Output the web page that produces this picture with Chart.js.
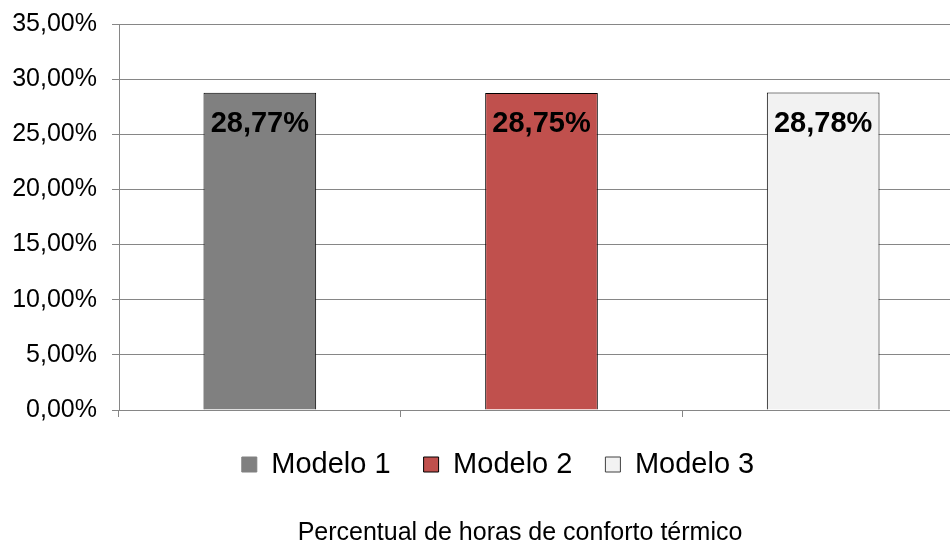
<!DOCTYPE html>
<html>
<head>
<meta charset="utf-8">
<script src="https://cdn.jsdelivr.net/npm/chart.js@4"></script>
<style>
  html, body { margin: 0; padding: 0; background: #fff; overflow: hidden; }
  #janela { width: 950px; height: 546px; overflow: hidden; }
  #wrap { width: 964px; height: 546px; }
</style>
</head>
<body>
<div id="janela"><div id="wrap"><canvas id="grafico"></canvas></div></div>
<script>
const modelos = ['Modelo 1', 'Modelo 2', 'Modelo 3'];
const percentuais = [28.77, 28.75, 28.78];
const cores = ['#808080', '#C0504D', '#F2F2F2'];
const bordas = ['#000000', '#000000', '#000000'];
const bordasLegenda = ['#808080', '#000000', '#404040'];
const ticksY = [0, 5, 10, 15, 20, 25, 30, 35];
const tituloEixo = 'Percentual de horas de conforto térmico';

function formatarPct(v) {
    return v.toFixed(2).replace('.', ',') + '%';
}

Chart.defaults.font.family = "'Liberation Sans', Arial, sans-serif";
Chart.defaults.color = '#000';

// rótulos dentro das barras
const rotulosBarras = {
    id: 'rotulosBarras',
    afterDatasetsDraw(chart) {
        const ctx = chart.ctx;
        const meta = chart.getDatasetMeta(0);
        ctx.save();
        ctx.font = "bold 29px 'Liberation Sans', Arial, sans-serif";
        ctx.fillStyle = '#000';
        ctx.textAlign = 'center';
        ctx.textBaseline = 'middle';
        meta.data.forEach((bar, i) => {
            ctx.fillText(formatarPct(percentuais[i]), bar.x, bar.y + 31);
        });
        ctx.restore();
    }
};

// legenda e título um pouco deslocados para a direita, como no original
const deslocarCaixas = {
    id: 'deslocarCaixas',
    afterLayout(chart) {
        if (chart.legend) { chart.legend.left += 16; chart.legend.right += 16; }
        if (chart.titleBlock) { chart.titleBlock.left += 38; chart.titleBlock.right += 38; }
    }
};

new Chart(document.getElementById('grafico'), {
    type: 'bar',
    data: {
        labels: modelos,
        datasets: [{
            label: tituloEixo,
            data: percentuais,
            backgroundColor: cores,
            borderColor: bordas,
            borderWidth: 1,
            categoryPercentage: 1,
            barPercentage: 0.4
        }]
    },
    options: {
        responsive: true,
        maintainAspectRatio: false,
        animation: false,
        layout: { padding: { top: 24, right: 0, left: 0, bottom: 0 } },
        scales: {
            x: {
                offset: true,
                grid: { offset: true, drawOnChartArea: false, drawTicks: true, tickLength: 7, color: '#868686' },
                border: { display: true, color: '#868686', width: 1 },
                ticks: { display: false }
            },
            y: {
                min: 0,
                max: 35,
                afterBuildTicks: (scale) => { scale.ticks = ticksY.map(v => ({ value: v })); },
                afterFit: (scale) => { scale.width = 119; },
                grid: { color: '#868686', tickLength: 7 },
                border: { display: true, color: '#868686', width: 1 },
                ticks: {
                    padding: 15,
                    font: { size: 25, lineHeight: 0.5 },
                    color: '#000',
                    callback: (v) => formatarPct(v)
                }
            }
        },
        plugins: {
            legend: {
                position: 'bottom',
                labels: {
                    boxWidth: 15,
                    boxHeight: 15,
                    padding: 33,
                    font: { size: 29 },
                    color: '#000',
                    generateLabels: () => modelos.map((m, i) => ({
                        text: m,
                        fillStyle: cores[i],
                        strokeStyle: bordasLegenda[i],
                        lineWidth: 1,
                        hidden: false,
                        index: i,
                        fontColor: '#000'
                    }))
                },
                onClick: () => {}
            },
            title: {
                display: true,
                position: 'bottom',
                text: tituloEixo,
                color: '#000',
                font: { size: 25, weight: 'normal', lineHeight: 1 },
                padding: { top: 32, bottom: 0 }
            },
            tooltip: { enabled: false }
        }
    },
    plugins: [rotulosBarras, deslocarCaixas]
});
</script>
</body>
</html>
